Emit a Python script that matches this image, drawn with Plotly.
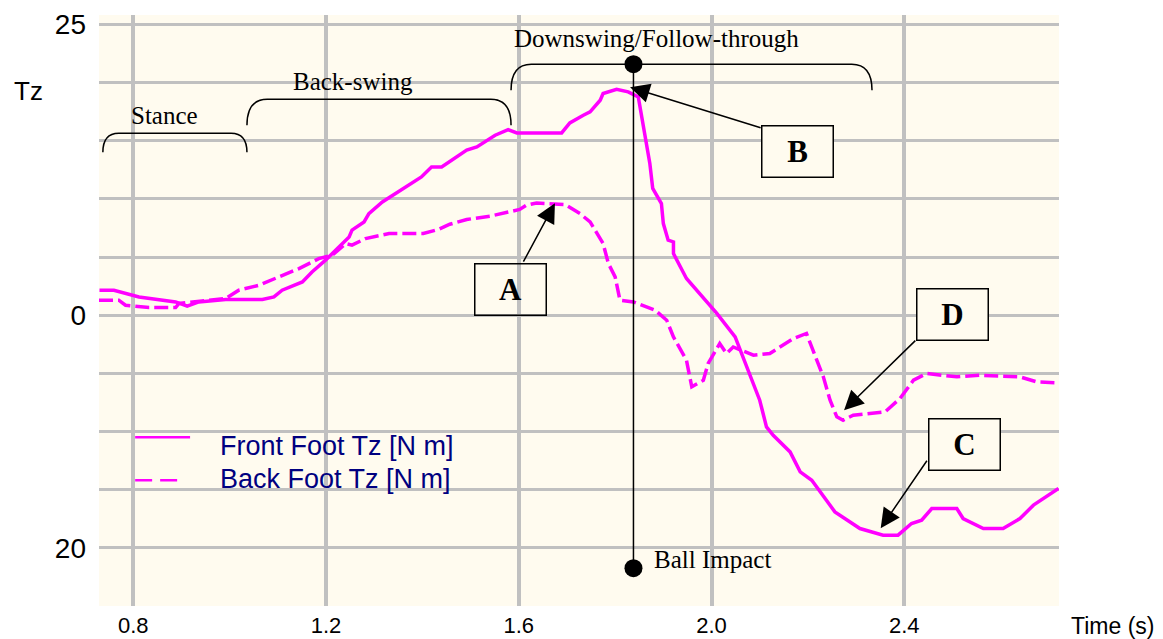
import plotly.graph_objects as go

# ---------------- data ----------------
front_t = [0.730, 0.760, 0.812, 0.888, 0.912, 0.936, 0.992, 1.068, 1.092, 1.109,
           1.151, 1.171, 1.199, 1.227, 1.248, 1.254, 1.279, 1.289, 1.317, 1.398,
           1.419, 1.440, 1.492, 1.513, 1.551, 1.578, 1.596, 1.689, 1.706, 1.734,
           1.748, 1.769, 1.775, 1.803, 1.827, 1.848, 1.862, 1.872, 1.878, 1.896,
           1.900, 1.910, 1.921, 1.921, 1.948, 2.011, 2.049, 2.100, 2.114, 2.128,
           2.163, 2.184, 2.208, 2.256, 2.308, 2.356, 2.387, 2.415, 2.436, 2.457,
           2.509, 2.522, 2.564, 2.605, 2.640, 2.668, 2.720]
front_tz = [2.15, 2.15, 1.57, 1.14, 0.77, 1.14, 1.35, 1.35, 1.57, 2.15,
            2.86, 3.72, 4.73, 5.87, 6.73, 7.31, 8.02, 8.74, 9.74, 11.89,
            12.75, 12.75, 14.19, 14.47, 15.47, 15.96, 15.67, 15.67, 16.53, 17.19,
            17.48, 18.48, 19.06, 19.43, 19.20, 18.77, 15.30, 13.04, 10.90, 9.60,
            7.88, 6.45, 6.30, 5.30, 3.16, 0.15, -1.87, -7.31, -9.60, -10.32,
            -11.75, -13.47, -14.19, -16.91, -18.34, -18.91, -18.91, -17.91, -17.62, -16.62,
            -16.62, -17.48, -18.34, -18.34, -17.48, -16.33, -14.90]

back_t = [0.729, 0.770, 0.784, 0.833, 0.888, 0.895, 0.943, 0.992, 1.019, 1.061,
          1.102, 1.144, 1.185, 1.213, 1.241, 1.254, 1.282, 1.331, 1.402, 1.433,
          1.457, 1.492, 1.540, 1.575, 1.602, 1.616, 1.637, 1.696, 1.727, 1.748,
          1.762, 1.775, 1.786, 1.800, 1.810, 1.838, 1.865, 1.883, 1.907, 1.921,
          1.948, 1.959, 1.983, 1.993, 2.017, 2.031, 2.045, 2.087, 2.121, 2.170,
          2.197, 2.211, 2.232, 2.246, 2.260, 2.273, 2.294, 2.360, 2.391, 2.419,
          2.446, 2.509, 2.557, 2.640, 2.675, 2.720]
back_tz = [1.29, 1.29, 0.86, 0.66, 0.66, 1.01, 1.23, 1.44, 2.15, 2.58,
           3.29, 4.01, 4.87, 5.16, 6.16, 6.02, 6.59, 7.02, 7.02, 7.37,
           7.82, 8.23, 8.51, 8.88, 9.09, 9.46, 9.65, 9.52, 8.74, 8.02,
           7.02, 6.16, 4.44, 3.29, 1.29, 1.14, 0.71, 0.43, -0.43, -1.87,
           -3.87, -6.16, -5.59, -4.15, -2.43, -3.29, -2.73, -3.44, -3.29, -2.00,
           -1.57, -3.01, -5.30, -7.31, -8.74, -9.03, -8.60, -8.31, -7.16, -5.59,
           -5.01, -5.30, -5.16, -5.30, -5.73, -5.82]

impact_t = [1.838, 1.838]
impact_y = [21.58, -21.75]

x_tick_vals = [0.8, 1.2, 1.6, 2.0, 2.4]
x_tick_text = ["0.8", "1.2", "1.6", "2.0", "2.4"]
y_tick_vals = [25, 20, 15, 10, 5, 0, -5, -10, -15, -20, -25]
y_tick_text = ["25", "", "", "", "", "0", "", "", "", "20", ""]

series_names = ["Front Foot Tz [N m]", "Back Foot Tz [N m]"]

# phases
phase_labels = ["Stance", "Back-swing", "Downswing/Follow-through"]
phase_start = [0.737, 1.036, 1.584]
phase_end = [1.036, 1.584, 2.333]
phase_top = [15.65, 18.57, 21.58]
phase_bottom = [14.01, 16.33, 19.34]

BG = "#FFFBEF"
GRID = "#C0C0C0"
MAG = "#FF00FF"
SERIF = "Liberation Serif, Times New Roman, serif"
SANS = "Liberation Sans, Arial, sans-serif"

fig = go.Figure()
fig.add_trace(go.Scatter(x=front_t, y=front_tz, mode="lines", name=series_names[0],
                         line=dict(color=MAG, width=3.5), showlegend=False))
fig.add_trace(go.Scatter(x=back_t, y=back_tz, mode="lines", name=series_names[1],
                         line=dict(color=MAG, width=3.5, dash="14px,5px"), showlegend=False))
fig.add_trace(go.Scatter(x=impact_t, y=impact_y, mode="lines+markers", showlegend=False,
                         line=dict(color="black", width=1.5),
                         marker=dict(color="black", size=18)))

shapes = []
radii = [0.033, 0.042, 0.042]
for s, e, top, bot, r in zip(phase_start, phase_end, phase_top, phase_bottom, radii):
    path = (f"M {s},{bot} Q {s},{top} {s + r},{top} L {e - r},{top} "
            f"Q {e},{top} {e},{bot}")
    shapes.append(dict(type="path", path=path, xref="x", yref="y",
                       line=dict(color="black", width=1.5)))

# legend samples
shapes.append(dict(type="line", xref="x", yref="y", x0=0.804, x1=0.918, y0=-10.49, y1=-10.49,
                   line=dict(color=MAG, width=2.5)))
shapes.append(dict(type="line", xref="x", yref="y", x0=0.804, x1=0.893, y0=-14.19, y1=-14.19,
                   line=dict(color=MAG, width=2.5, dash="17px,8px")))

annotations = []
phase_text_x = [0.865, 1.256, 1.885]
phase_text_y = [17.17, 20.12, 23.78]
for lab, tx, ty in zip(phase_labels, phase_text_x, phase_text_y):
    annotations.append(dict(x=tx, y=ty, xref="x", yref="y", text=lab, showarrow=False,
                            font=dict(family=SERIF, size=25, color="black")))

annotations.append(dict(x=1.876, y=-21.0, xref="x", yref="y", text="Ball Impact",
                        showarrow=False, xanchor="left",
                        font=dict(family=SERIF, size=25, color="black")))

annotations.append(dict(x=0.976, y=-11.26, xref="x", yref="y", text=series_names[0],
                        showarrow=False, xanchor="left",
                        font=dict(family=SANS, size=27, color="#000080")))
annotations.append(dict(x=0.976, y=-14.06, xref="x", yref="y", text=series_names[1],
                        showarrow=False, xanchor="left",
                        font=dict(family=SANS, size=27, color="#000080")))

box_labels = ["A", "B", "C", "D"]
box_x = [1.582, 2.179, 2.525, 2.500]
box_y = [2.235, 14.10, -11.13, 0.04]
box_fill = ["rgba(0,0,0,0)", BG, BG, BG]
for lab, bx, by, bf in zip(box_labels, box_x, box_y, box_fill):
    annotations.append(dict(x=bx, y=by, xref="x", yref="y", text=f"<b>{lab}</b>",
                            showarrow=False, width=70, height=50, borderpad=0,
                            bordercolor="black", borderwidth=1.5, bgcolor=bf,
                            font=dict(family=SERIF, size=31, color="black")))

arrow_tip_x = [1.675, 1.831, 2.351, 2.275]
arrow_tip_y = [9.63, 19.60, -18.31, -8.17]
arrow_start_x = [1.608, 2.105, 2.449, 2.426]
arrow_start_y = [4.47, 16.08, -12.38, -2.06]
for tx, ty, sx, sy in zip(arrow_tip_x, arrow_tip_y, arrow_start_x, arrow_start_y):
    annotations.append(dict(x=tx, y=ty, ax=sx, ay=sy, xref="x", yref="y",
                            axref="x", ayref="y", text="", showarrow=True,
                            arrowhead=2, arrowsize=2.6, arrowwidth=1.5,
                            arrowcolor="black", standoff=0, startstandoff=0))

annotations.append(dict(x=-0.073, y=0.871, xref="paper", yref="paper", text="Tz",
                        showarrow=False, xanchor="center", yanchor="middle",
                        font=dict(family=SANS, size=26, color="black")))
annotations.append(dict(x=1.0104, y=-0.0345, xref="paper", yref="paper", text="Time (s)",
                        showarrow=False, xanchor="left", yanchor="middle",
                        font=dict(family=SANS, size=23, color="black")))

fig.update_layout(
    width=1163, height=639,
    margin=dict(l=99, r=104, t=15, b=33, autoexpand=False),
    paper_bgcolor="white", plot_bgcolor=BG,
    shapes=shapes, annotations=annotations,
    showlegend=False,
    xaxis=dict(range=[0.729, 2.721], tickvals=x_tick_vals, ticktext=x_tick_text,
               showgrid=True, gridcolor=GRID, gridwidth=3.5, zeroline=False,
               showline=False, ticks="", ticklabelstandoff=4, automargin=False,
               tickfont=dict(family=SANS, size=22, color="black")),
    yaxis=dict(range=[-25, 25.81], tickvals=y_tick_vals, ticktext=y_tick_text,
               showgrid=True, gridcolor=GRID, gridwidth=2.5, zeroline=False,
               showline=False, ticks="", ticklabelstandoff=12, automargin=False,
               tickfont=dict(family=SANS, size=28, color="black")),
)

fig.write_html("out.html",
               config={"displayModeBar": False},
               post_script="document.body.style.margin='0';"
                           "document.body.style.overflow='hidden';")
